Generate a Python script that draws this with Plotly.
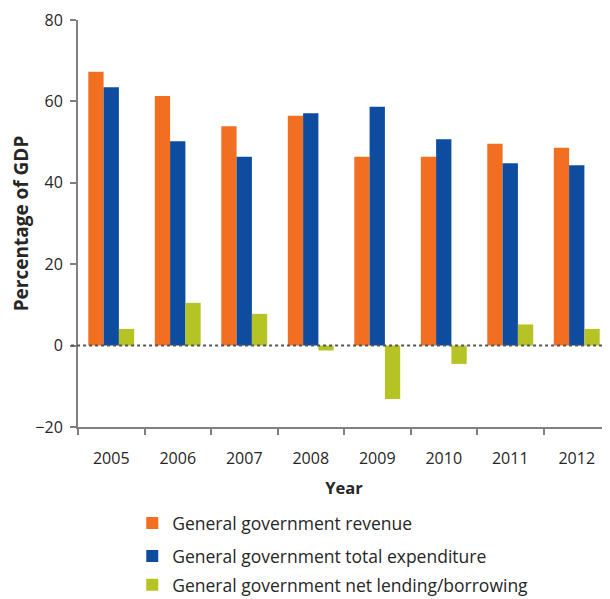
import plotly.graph_objects as go

years = ["2005", "2006", "2007", "2008", "2009", "2010", "2011", "2012"]
revenue = [67.3, 61.3, 53.9, 56.5, 46.4, 46.4, 49.6, 48.6]
expenditure = [63.5, 50.2, 46.4, 57.1, 58.7, 50.7, 44.8, 44.3]
net_lending = [4.1, 10.5, 7.8, -1.2, -13.1, -4.5, 5.2, 4.1]

y_ticks = [-20, 0, 20, 40, 60, 80]
y_tick_text = ["\u221220", "0", "20", "40", "60", "80"]

series = [
    ("General government revenue", revenue, "#F26F21"),
    ("General government total expenditure", expenditure, "#0D4C9F"),
    ("General government net lending/borrowing", net_lending, "#B5C424"),
]

FONT = "Open Sans"
TXT = "#262626"

legend_ids = ["legend", "legend2", "legend3"]
legend_y = [-0.236, -0.317, -0.388]

fig = go.Figure()
for i, (name, vals, col) in enumerate(series):
    fig.add_trace(go.Bar(
        x=years, y=vals, name=name, marker=dict(color=col, line=dict(width=0)),
        legend=legend_ids[i],
    ))

fig.add_shape(type="line", xref="paper", yref="y", x0=-0.013, x1=1, y0=0, y1=0,
              line=dict(color="#555555", width=2, dash="dot"), layer="above")

legend_common = dict(
    x=0.102, xanchor="left", yanchor="middle",
    orientation="v", font=dict(family=FONT, size=17.5, color=TXT),
    itemwidth=30, bgcolor="rgba(0,0,0,0)",
)

fig.update_layout(
    width=602, height=591,
    margin=dict(l=70, r=0, t=12, b=172, autoexpand=False),
    paper_bgcolor="white", plot_bgcolor="white",
    barmode="group", bargap=0.31, bargroupgap=0,
    font=dict(family=FONT, size=16, color=TXT),
    showlegend=True,
    legend=dict(y=legend_y[0], **legend_common),
    legend2=dict(y=legend_y[1], **legend_common),
    legend3=dict(y=legend_y[2], **legend_common),
    xaxis=dict(
        type="category", range=[-0.5, 7.5],
        showline=True, linecolor="#808080", linewidth=2,
        ticks="outside", tickson="boundaries", ticklen=6, tickwidth=2, tickcolor="#808080",
        tickfont=dict(family=FONT, size=16, color=TXT),
        ticklabelstandoff=16,
        title=dict(text="<b>Year</b>", font=dict(family=FONT, size=16.5, color=TXT), standoff=14),
        showgrid=False, zeroline=False,
    ),
    yaxis=dict(
        range=[-20, 80], tickvals=y_ticks, ticktext=y_tick_text,
        showline=True, linecolor="#808080", linewidth=2,
        ticks="outside", ticklen=6, tickwidth=2, tickcolor="#808080",
        tickfont=dict(family=FONT, size=16, color=TXT),
        ticklabelstandoff=4,
        title=dict(text="<b>Percentage of GDP</b>", font=dict(family=FONT, size=19, color=TXT), standoff=4),
        showgrid=False, zeroline=False,
    ),
)

fig.write_html("out.html")
